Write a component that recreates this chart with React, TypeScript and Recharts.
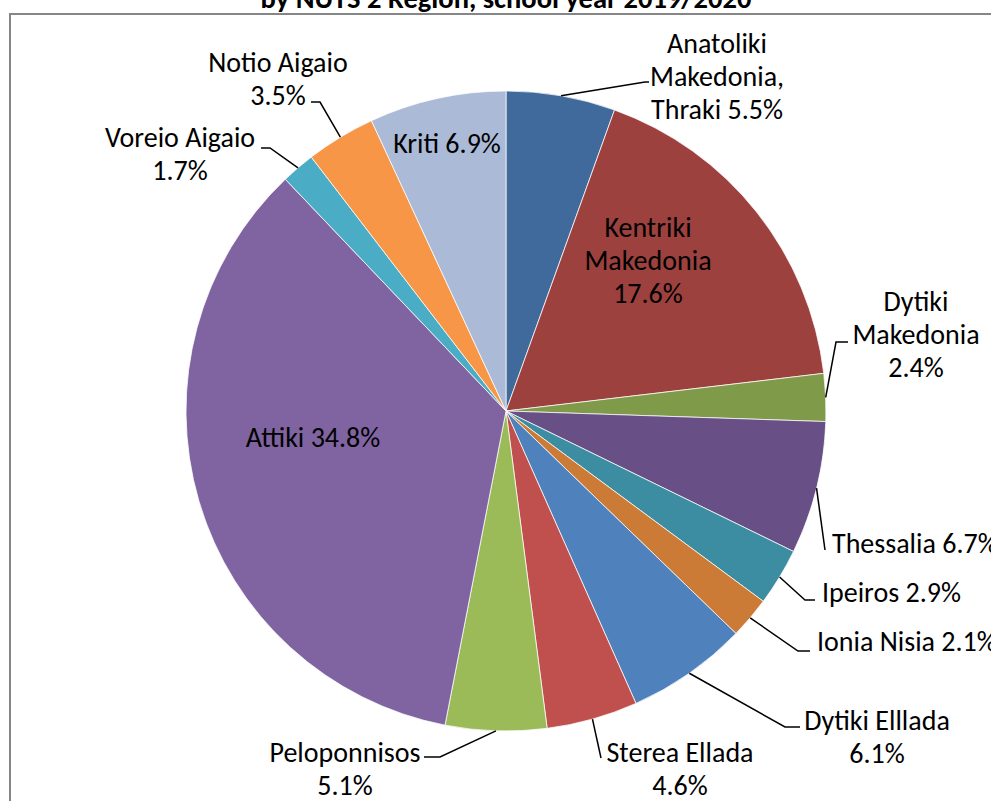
import { PieChart, Pie, Cell } from "recharts";

const regions = [
  "Anatoliki Makedonia, Thraki",
  "Kentriki Makedonia",
  "Dytiki Makedonia",
  "Thessalia",
  "Ipeiros",
  "Ionia Nisia",
  "Dytiki Elllada",
  "Sterea Ellada",
  "Peloponnisos",
  "Attiki",
  "Voreio Aigaio",
  "Notio Aigaio",
  "Kriti",
];

const shares = [5.5, 17.6, 2.4, 6.7, 2.9, 2.1, 6.1, 4.6, 5.1, 34.8, 1.7, 3.5, 6.9];

// how each label is broken over lines (the percent is appended to the last line)
const labelLines = [
  ["Anatoliki", "Makedonia,", "Thraki"],
  ["Kentriki", "Makedonia", ""],
  ["Dytiki", "Makedonia", ""],
  ["Thessalia"],
  ["Ipeiros"],
  ["Ionia Nisia"],
  ["Dytiki Elllada", ""],
  ["Sterea Ellada", ""],
  ["Peloponnisos", ""],
  ["Attiki"],
  ["Voreio Aigaio", ""],
  ["Notio Aigaio", ""],
  ["Kriti"],
];

const colors = [
  "#406A9C",
  "#9D413F",
  "#7F9A48",
  "#684F86",
  "#3C8CA2",
  "#CC7B37",
  "#4F81BD",
  "#C0504D",
  "#9BBB59",
  "#8064A2",
  "#4BACC6",
  "#F79646",
  "#AABAD7",
];

// label placement (Excel put these by hand)
const labelPos = [
  { x: 717, y: 43, anchor: "middle", elbow: [645, 82], end: [649, 82] },
  { x: 648, y: 227, anchor: "middle" },
  { x: 916, y: 301, anchor: "middle", elbow: [836, 342], end: [848, 342] },
  { x: 832, y: 543, anchor: "start", elbow: [825, 550], end: [825, 550] },
  { x: 822, y: 592, anchor: "start", elbow: [805, 600], end: [815, 600] },
  { x: 817, y: 641, anchor: "start", elbow: [798, 651], end: [810, 651] },
  { x: 877, y: 720, anchor: "middle", elbow: [785, 727], end: [800, 727] },
  { x: 680, y: 752, anchor: "middle", elbow: [601, 758], end: [601, 758] },
  { x: 345, y: 752, anchor: "middle", elbow: [440, 757], end: [424, 757] },
  { x: 313, y: 437, anchor: "middle" },
  { x: 180, y: 137, anchor: "middle", elbow: [270, 148], end: [261, 148] },
  { x: 278, y: 62, anchor: "middle", elbow: [320, 102], end: [311, 102] },
  { x: 447, y: 143, anchor: "middle" },
];

const data = regions.map((name, i) => ({ name, value: shares[i] }));

const FONT = "Carlito, Calibri, Lato, sans-serif";
const RAD = Math.PI / 180;

function renderLabel(props: any) {
  const { cx, cy, midAngle, outerRadius, index } = props;
  const pos = labelPos[index];
  const lines = labelLines[index].slice();
  const pct = shares[index].toFixed(1) + "%";
  const last = lines.length - 1;
  lines[last] = lines[last] ? lines[last] + " " + pct : pct;

  const sx = cx + outerRadius * Math.cos(-midAngle * RAD);
  const sy = cy + outerRadius * Math.sin(-midAngle * RAD);

  return (
    <g key={"lbl" + index}>
      {pos.elbow && (
        <polyline
          points={`${sx},${sy} ${pos.elbow[0]},${pos.elbow[1]} ${pos.end[0]},${pos.end[1]}`}
          fill="none"
          stroke="#000"
          strokeWidth={1.5}
        />
      )}
      {lines.map((t, k) => (
        <text
          key={k}
          x={pos.x}
          y={pos.y + k * 33}
          textAnchor={pos.anchor}
          dominantBaseline="central"
          fontFamily={FONT}
          fontSize={28}
          fill="#000"
        >
          {t}
        </text>
      ))}
    </g>
  );
}

export default function App() {
  return (
    <div
      style={{
        position: "absolute",
        left: 0,
        top: 0,
        width: 991,
        height: 801,
        background: "#fff",
        overflow: "hidden",
      }}
    >
      <svg
        width={991}
        height={801}
        style={{ position: "absolute", left: 0, top: 0 }}
      >
        <rect x={10} y={14} width={1000} height={800} fill="none" stroke="#868686" strokeWidth={2} />
        <text
          x={506}
          y={8}
          textAnchor="middle"
          fontFamily={FONT}
          fontWeight="bold"
          fontSize={28.5}
          fill="#000"
        >
          by NUTS 2 Region, school year 2019/2020
        </text>
      </svg>
      <div style={{ position: "absolute", left: 0, top: 0 }}>
        <PieChart width={991} height={801} margin={{ top: 0, right: 0, bottom: 0, left: 0 }}>
          <Pie
            data={data}
            dataKey="value"
            nameKey="name"
            cx={506}
            cy={411}
            outerRadius={320}
            startAngle={90}
            endAngle={-270}
            stroke="#ffffff"
            strokeWidth={0.75}
            label={renderLabel}
            labelLine={false}
            isAnimationActive={false}
          >
            {data.map((d, i) => (
              <Cell key={d.name} fill={colors[i]} />
            ))}
          </Pie>
        </PieChart>
      </div>
    </div>
  );
}
